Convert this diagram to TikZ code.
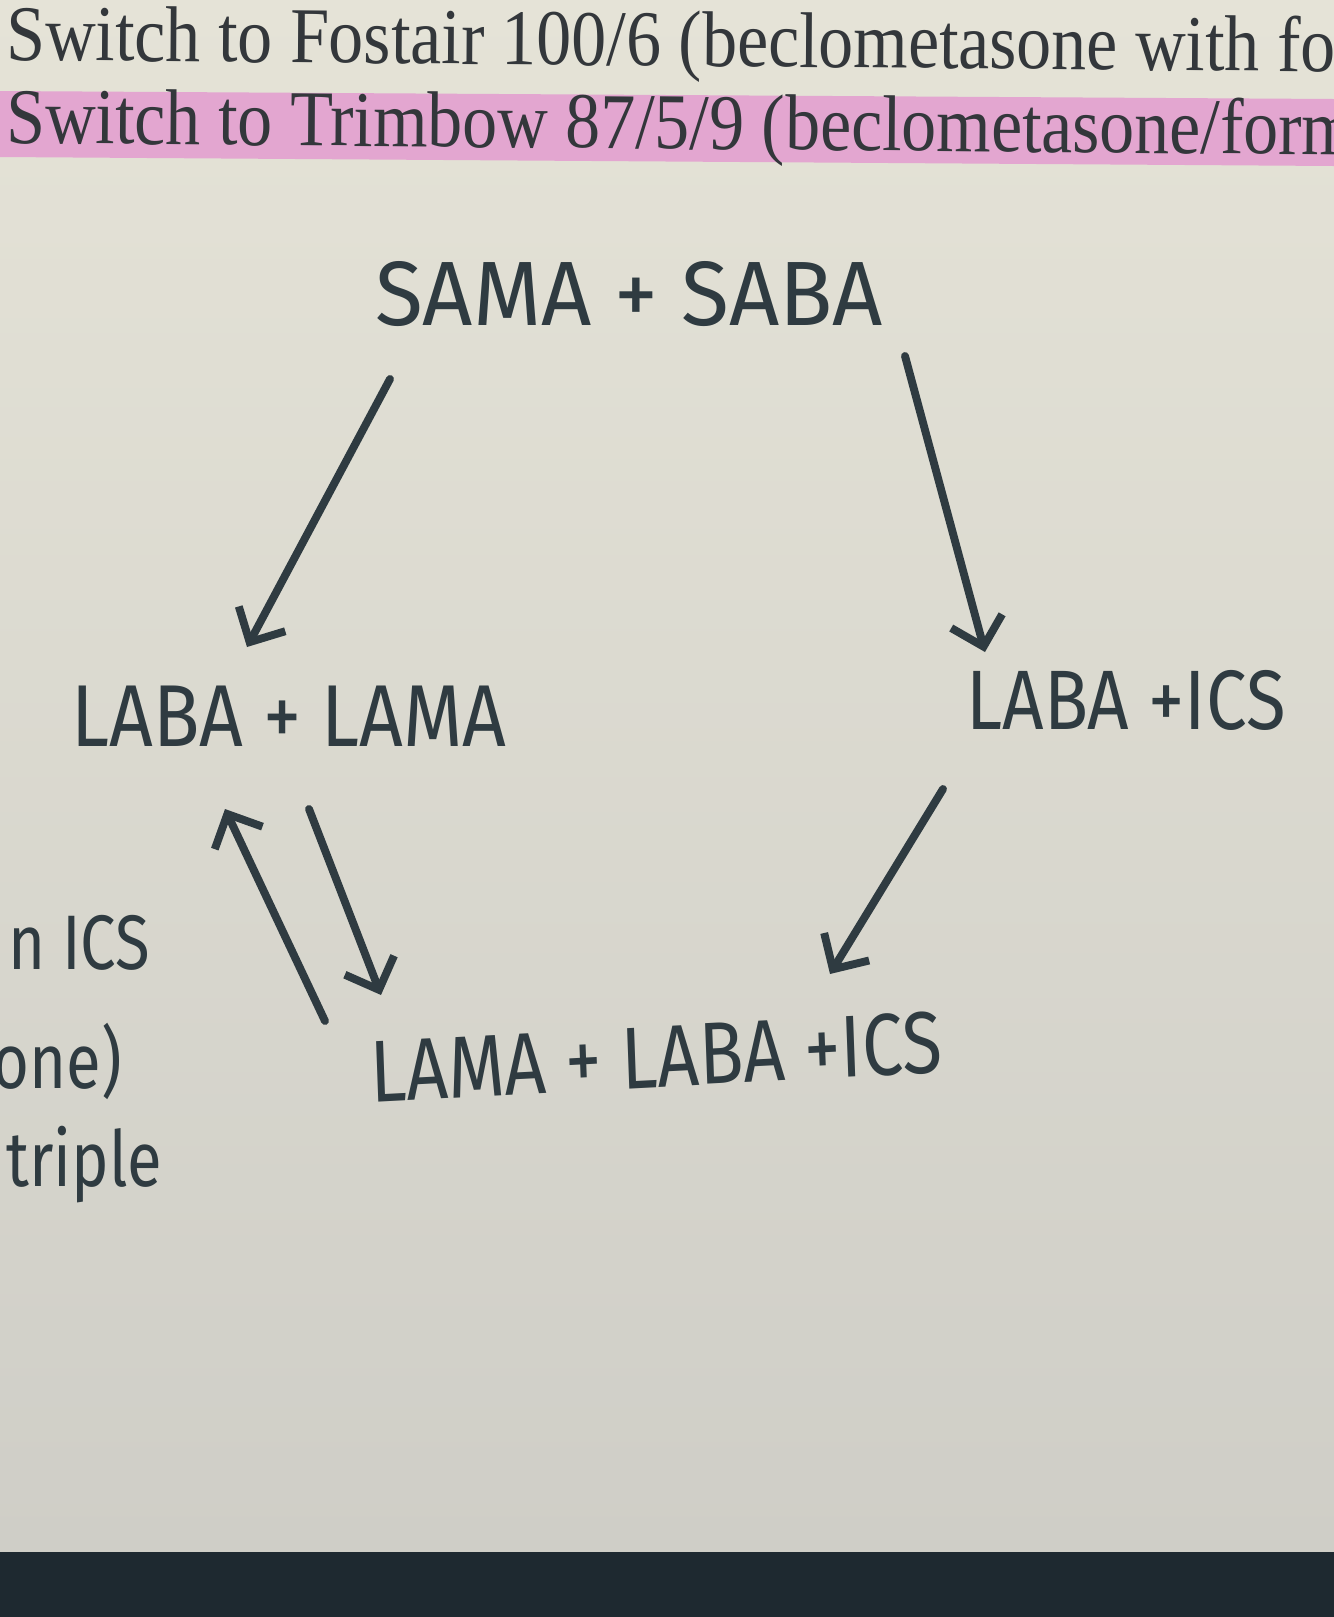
\documentclass[tikz,border=0pt]{standalone}
\usepackage{fontspec}
\setmainfont{Liberation Serif}
\newfontfamily\hand{Fira Sans}
\usetikzlibrary{arrows.meta,calc}
\definecolor{scrTop}{HTML}{E5E3D7}
\definecolor{scrBot}{HTML}{CFCEC7}
\definecolor{scrBezel}{HTML}{1E2930}
\definecolor{inkDark}{HTML}{2F3B41}
\definecolor{typeDark}{HTML}{33373B}
\definecolor{hlPink}{HTML}{E3A6D0}

\begin{document}
\begin{tikzpicture}[x=0.02cm,y=-0.02cm,
  handtext/.style={font=\hand\fontsize{#1}{60}\selectfont,text=inkDark,inner sep=0pt},
  handside/.style={font=\hand\fontsize{44}{48}\selectfont,text=inkDark,inner sep=0pt,anchor=base west,xscale=0.82},
  typeline/.style={font=\fontsize{45}{48}\selectfont,text=typeDark,inner sep=0pt,anchor=base west,xscale=0.885,rotate=-0.45},
  penarrow/.style={draw=inkDark,line width=4.5pt,line cap=round,line join=round,
    -{Straight Barb[length=15pt,width=30pt]}}]
% screen and bezel
\shade[top color=scrTop,bottom color=scrBot] (0,0) rectangle (1334,1552);
\fill[scrBezel] (0,1552) rectangle (1334,1617);
\useasboundingbox (0,0) rectangle (1334,1617);

% typed lines at the top
\fill[hlPink] (0,91) -- (1334,99) -- (1334,166) -- (0,157) -- cycle;
\node[typeline] (fostair) at (6,60) {Switch to Fostair 100/6 (beclometasone with fo};
\node[typeline] (trimbow) at (6,143) {Switch to Trimbow 87/5/9 (beclometasone/form};

% handwritten steps
\node[handtext=52,xscale=0.96] (sama) at (629,294) {SAMA + SABA};
\node[handtext=50,xscale=0.87] (lablam) at (289,716) {LABA + LAMA};
\node[handtext=48,xscale=0.86] (labics) at (1126,700) {LABA +ICS};
\node[handtext=50,xscale=0.83,rotate=2.5] (lamlabics) at (656,1057) {LAMA + LABA +ICS};

% cut-off notes on the left
\node[handside] (frag1) at (8,969) {n ICS};
\node[handside] (frag2) at (-8,1088) {one)};
\node[handside] (frag3) at (6,1186) {triple};

% arrows
\draw[penarrow] ($(sama)+(-239,85)$) -- ($(lablam)+(-42,-69)$);
\draw[penarrow] ($(sama)+(276,62)$) -- ($(labics)+(-141,-48)$);
\draw[penarrow] ($(labics)+(-183,89)$) -- ($(lamlabics)+(174,-83)$);
\draw[penarrow] ($(lamlabics)+(-331,-36)$) -- ($(lablam)+(-64,93)$);
\draw[penarrow] ($(lablam)+(20,93)$) -- ($(lamlabics)+(-275,-62)$);
\end{tikzpicture}
\end{document}
